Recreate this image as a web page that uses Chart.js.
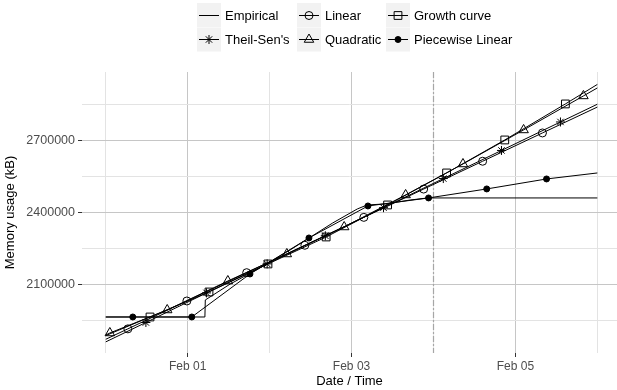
<!DOCTYPE html>
<html>
<head>
<meta charset="utf-8">
<script src="https://cdn.jsdelivr.net/npm/chart.js@4.4.1/dist/chart.umd.min.js"></script>
<style>
  html, body { margin: 0; padding: 0; background: #fff; }
  canvas { display: block; }
</style>
</head>
<body>
<canvas id="chart" width="617" height="390"></canvas>
<script>
// time in days since Jan 31 00:00
const xTickDays = [0, 1, 2, 3, 4, 5, 6];
const xTickLabels = ['', 'Feb 01', '', 'Feb 03', '', 'Feb 05', ''];
const yTicks = [1950000, 2100000, 2250000, 2400000, 2550000, 2700000, 2850000];
const forecastStart = 4;

const empTimes = [0, 1.21, 1.215, 1.52, 1.88, 2.25, 2.52, 2.77, 3.07, 3.19, 3.41, 3.72, 3.93, 6.0];
const empValues = [1965400, 1965400, 2036300, 2102900, 2169600, 2244600, 2302900, 2357100, 2415400, 2432100, 2436300, 2452900, 2461300, 2461300];

const linearTimes = [0, 0.27, 0.99, 1.72, 2.43, 3.15, 3.88, 4.60, 5.33, 6.0];
const linearValues = [1872500, 1916000, 2032100, 2150000, 2264200, 2380400, 2498300, 2614200, 2732100, 2840000];

const theilTimes = [0, 0.49, 1.23, 1.97, 2.68, 3.39, 4.12, 4.83, 5.55, 6.0];
const theilValues = [1861700, 1942500, 2065800, 2186700, 2303800, 2420800, 2542100, 2659200, 2777900, 2851700];

const growthTimes = [0, 0.54, 1.26, 1.98, 2.69, 3.44, 4.16, 4.87, 5.61, 6.0];
const growthValues = [1887900, 1965400, 2069600, 2186300, 2298700, 2432100, 2565400, 2702900, 2852900, 2934200];

const quadTimes = [0, 0.05, 0.75, 1.49, 2.21, 2.91, 3.66, 4.36, 5.10, 5.83, 6.0];
const quadValues = [1890400, 1898800, 1994600, 2115400, 2227900, 2340400, 2473800, 2602900, 2744600, 2886300, 2919600];

const pwTimes = [0, 0.33, 1.05, 1.76, 2.48, 3.20, 3.94, 4.65, 5.38, 6.0];
const pwValues = [1965400, 1965400, 1965400, 2144600, 2294600, 2427900, 2461300, 2498800, 2540400, 2565400];

const FONT = '"Liberation Sans", Arial, sans-serif';
const HOLLOW = 'rgba(0,0,0,0)';

const toPoints = (times, values) => times.map((t, i) => ({ x: t, y: values[i] }));

// markers only on interior points, like the R plot
function series(label, times, values, style, radius, fill) {
    return {
        label: label,
        data: toPoints(times, values),
        borderColor: '#000',
        borderWidth: 1,
        backgroundColor: fill,
        pointBackgroundColor: fill,
        pointBorderColor: '#000',
        pointBorderWidth: 1,
        pointStyle: style,
        pointRadius: ctx => (style && ctx.dataIndex > 0 && ctx.dataIndex < times.length - 1) ? radius : 0,
        tension: 0,
        fill: false
    };
}

const datasets = [
    series('Empirical', empTimes, empValues, false, 0, HOLLOW),
    series('Linear', linearTimes, linearValues, 'circle', 4, HOLLOW),
    series('Growth curve', growthTimes, growthValues, 'rect', 5.5, HOLLOW),
    series("Theil-Sen's", theilTimes, theilValues, 'star', 4.5, HOLLOW),
    series('Quadratic', quadTimes, quadValues, 'triangle', 5.5, HOLLOW),
    series('Piecewise Linear', pwTimes, pwValues, 'circle', 3, '#000')
];

// legend laid out like ggplot: 3 columns x 2 rows
const legendItems = [
    { label: 'Empirical', style: false, r: 0, fill: HOLLOW, col: 0, row: 0 },
    { label: 'Linear', style: 'circle', r: 4, fill: HOLLOW, col: 1, row: 0 },
    { label: 'Growth curve', style: 'rect', r: 5.5, fill: HOLLOW, col: 2, row: 0 },
    { label: "Theil-Sen's", style: 'star', r: 4.5, fill: HOLLOW, col: 0, row: 1 },
    { label: 'Quadratic', style: 'triangle', r: 5.5, fill: HOLLOW, col: 1, row: 1 },
    { label: 'Piecewise Linear', style: 'circle', r: 3, fill: '#000', col: 2, row: 1 }
];
const legendColX = [197, 297, 386];
const legendRowY = [3, 27.5];
const KEY = 24;

const legendPlugin = {
    id: 'ggLegend',
    afterDraw(chart) {
        const ctx = chart.ctx;
        ctx.save();
        legendItems.forEach(item => {
            const x = legendColX[item.col];
            const y = legendRowY[item.row];
            ctx.fillStyle = '#F2F2F2';
            ctx.fillRect(x, y, KEY, KEY);
            const cx = x + KEY / 2;
            const cy = Math.floor(y + KEY / 2) + 0.5;
            ctx.strokeStyle = '#000';
            ctx.lineWidth = 1;
            ctx.beginPath();
            ctx.moveTo(x + 2, cy);
            ctx.lineTo(x + KEY - 2, cy);
            ctx.stroke();
            if (item.style) {
                ctx.fillStyle = item.fill;
                Chart.helpers.drawPoint(ctx, { pointStyle: item.style, radius: item.r, rotation: 0, borderWidth: 1 }, cx, cy);
            }
            ctx.fillStyle = '#000';
            ctx.font = '13px ' + FONT;
            ctx.textAlign = 'left';
            ctx.textBaseline = 'middle';
            ctx.fillText(item.label, x + KEY + 4, cy + 0.5);
        });
        ctx.restore();
    }
};

// dashed line marking where the forecast starts
const forecastLine = {
    id: 'forecastLine',
    beforeDatasetsDraw(chart) {
        const { ctx, chartArea, scales } = chart;
        const x = Math.round(scales.x.getPixelForValue(forecastStart)) + 0.5;
        ctx.save();
        ctx.strokeStyle = '#A6A6A6';
        ctx.lineWidth = 1.2;
        ctx.setLineDash([6, 2, 2, 2]);
        ctx.beginPath();
        ctx.moveTo(x, chartArea.top);
        ctx.lineTo(x, chartArea.bottom);
        ctx.stroke();
        ctx.restore();
    }
};

new Chart(document.getElementById('chart'), {
    type: 'line',
    data: { datasets: datasets },
    plugins: [forecastLine, legendPlugin],
    options: {
        responsive: false,
        animation: false,
        devicePixelRatio: 1,
        layout: { padding: { top: 72, right: 0, left: 0, bottom: 0 } },
        plugins: {
            legend: { display: false },
            tooltip: { enabled: false }
        },
        scales: {
            x: {
                type: 'linear',
                min: -0.29,
                max: 6.24,
                afterBuildTicks: scale => { scale.ticks = xTickDays.map(v => ({ value: v })); },
                afterFit: scale => { scale.height = 37; scale.paddingLeft = 0; scale.paddingRight = 0; },
                border: { display: false },
                grid: {
                    color: ctx => (ctx.tick && ctx.tick.value % 2 === 1) ? '#C6C6C6' : '#E3E3E3',
                    lineWidth: 1,
                    tickLength: 4,
                    tickColor: ctx => (ctx.tick && ctx.tick.value % 2 === 1) ? '#333' : 'rgba(0,0,0,0)'
                },
                ticks: {
                    autoSkip: false,
                    maxRotation: 0,
                    padding: 2,
                    color: '#4D4D4D',
                    font: { family: FONT, size: 12 },
                    callback: (v, i) => xTickLabels[i]
                },
                title: {
                    display: true,
                    text: 'Date / Time',
                    color: '#000',
                    font: { family: FONT, size: 13 },
                    padding: { top: 0, bottom: 1 }
                }
            },
            y: {
                type: 'linear',
                min: 1815400,
                max: 2986000,
                afterBuildTicks: scale => { scale.ticks = yTicks.map(v => ({ value: v })); },
                afterFit: scale => { scale.width = 82; scale.paddingTop = 0; scale.paddingBottom = 0; },
                border: { display: false },
                grid: {
                    color: ctx => (ctx.tick && ctx.tick.value % 300000 === 0) ? '#C6C6C6' : '#E3E3E3',
                    lineWidth: 1,
                    tickLength: 4,
                    tickColor: ctx => (ctx.tick && ctx.tick.value % 300000 === 0) ? '#333' : 'rgba(0,0,0,0)'
                },
                ticks: {
                    padding: 3,
                    color: '#4D4D4D',
                    font: { family: FONT, size: 12.5 },
                    callback: v => (v % 300000 === 0) ? String(v) : ''
                },
                title: {
                    display: true,
                    text: 'Memory usage (kB)',
                    color: '#000',
                    font: { family: FONT, size: 13 },
                    padding: { top: 3, bottom: 0 }
                }
            }
        }
    }
});
</script>
</body>
</html>
